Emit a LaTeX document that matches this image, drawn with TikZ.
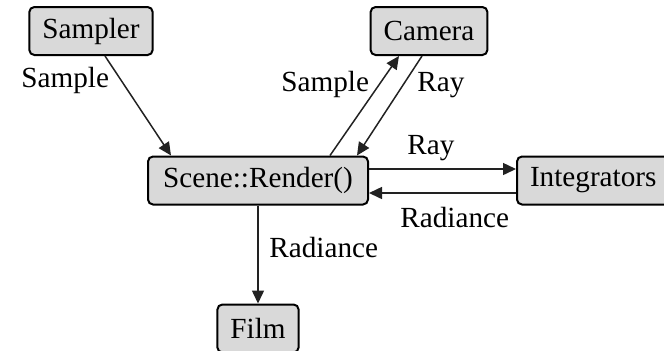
\documentclass[tikz,border=0pt]{standalone}
\usepackage{fontspec}
\setmainfont{Liberation Serif}
\usetikzlibrary{positioning,arrows.meta}

\definecolor{boxgray}{HTML}{D9D9D9}
\definecolor{linegray}{HTML}{222222}

\tikzset{
  module/.style={draw=black, fill=boxgray, line width=1pt, rounded corners=2.5pt,
    minimum height=24pt, inner xsep=6.5pt, font=\fontsize{14.6}{17}\selectfont},
  flow/.style={draw=linegray, line width=0.75pt, -{Triangle[length=6.5pt,width=6pt]}},
  tag/.style={inner sep=0pt, anchor=base west, font=\fontsize{14.6}{17}\selectfont},
}

\begin{document}
\begin{tikzpicture}[x=0.5pt, y=-0.5pt]
  \useasboundingbox (0,0) rectangle (664,350);
  \node [module] (sampler) at (91,31) {Sampler};
  \node [module] (camera) at (429,31) {Camera};
  \node [module, minimum width=110pt] (scene) at (258,180.5) {Scene::Render()};
  \node [module, anchor=west, text width=68pt, align=left] (integ) at (516,180.5) {Integrators};
  \node [module, below=49pt of scene] (film) {Film};

  \draw [flow] ([xshift=7pt]sampler.south) -- ([xshift=12pt]scene.north west);
  \draw [flow] ([xshift=36pt]scene.north) -- ([xshift=-15pt]camera.south);
  \draw [flow] ([xshift=-3.5pt]camera.south) -- ([xshift=49.5pt]scene.north);
  \draw [flow] ([yshift=5.75pt]scene.east) -- ([yshift=5.75pt]integ.west);
  \draw [flow] ([yshift=-6.25pt]integ.west) -- ([yshift=-6.25pt]scene.east);
  \draw [flow] (scene.south) -- (film.north);

  \node [tag] (sample1) at (21,87) {Sample};
  \node [tag] (sample2) at (281,91) {Sample};
  \node [tag] (ray1) at (417,91) {Ray};
  \node [tag] (ray2) at (407,154) {Ray};
  \node [tag] (rad1) at (400,227) {Radiance};
  \node [tag] (rad2) at (269,257) {Radiance};
\end{tikzpicture}
\end{document}
